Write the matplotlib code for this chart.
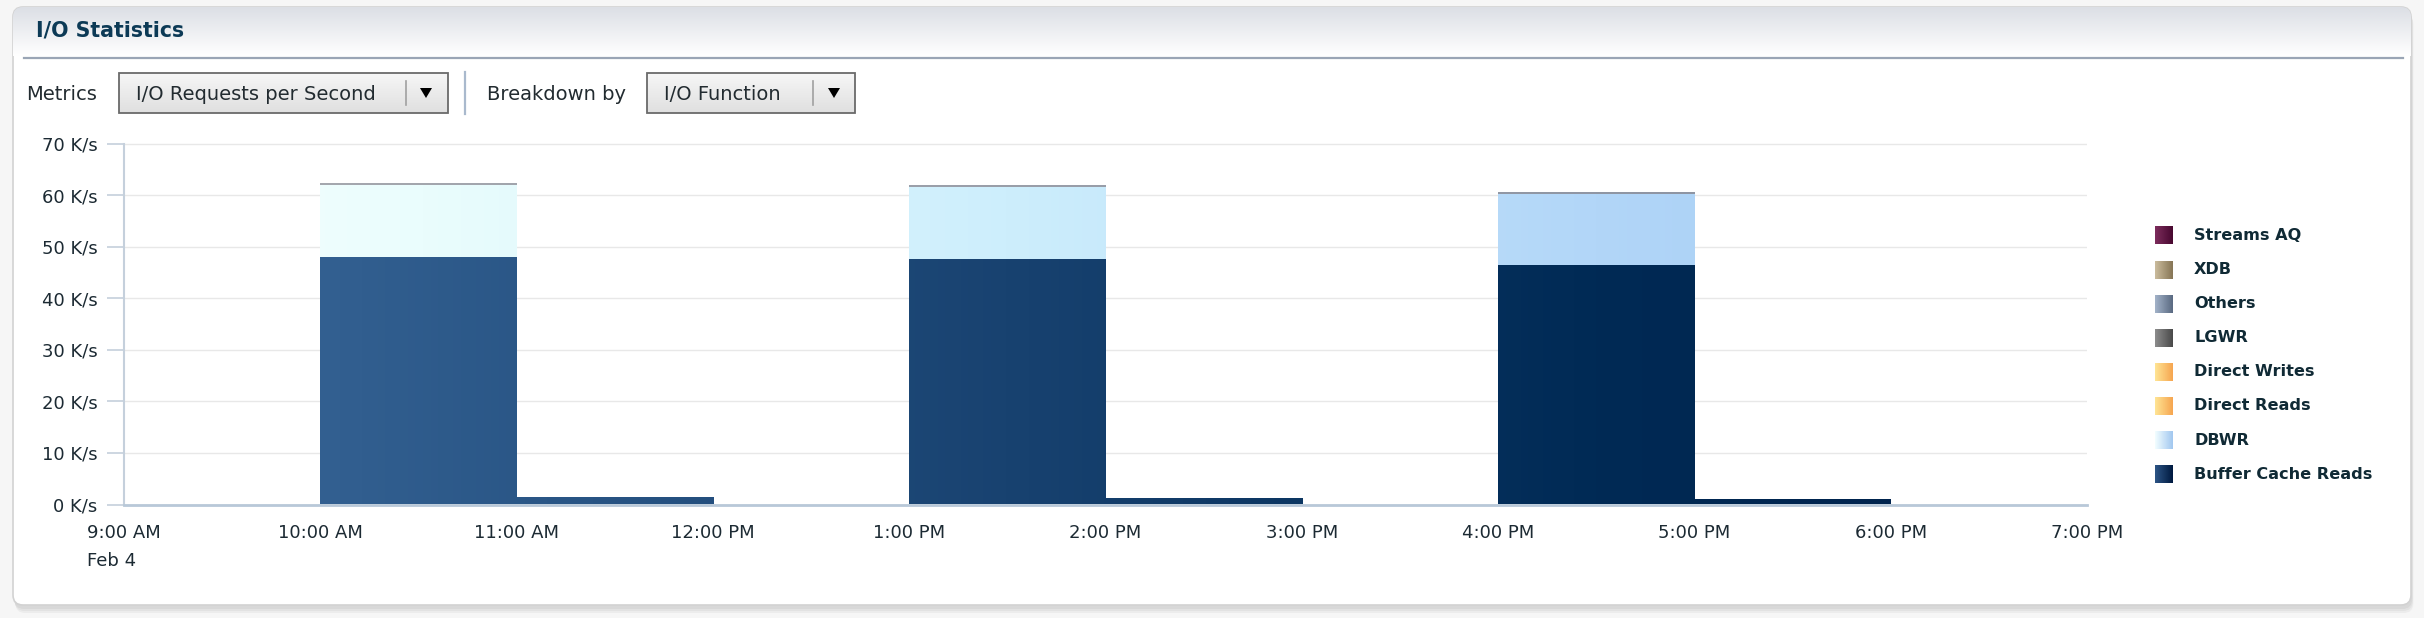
import numpy as np
import matplotlib
matplotlib.use('Agg')
from matplotlib import pyplot as plt
from matplotlib.colors import LinearSegmentedColormap
from matplotlib.patches import FancyBboxPatch, Rectangle, Polygon

W, H = 2424, 618

# hourly buckets (start hour), values in K/s
hours = [9, 10, 11, 12, 13, 14, 15, 16, 17, 18]
buffer_cache_reads = [0, 47.9, 1.2, 0, 47.6, 1.1, 0, 46.4, 0.9, 0]
dbwr = [0, 14.1, 0, 0, 14.0, 0, 0, 13.8, 0, 0]
direct_reads = [0, 0, 0, 0, 0, 0, 0, 0, 0, 0]
direct_writes = [0, 0, 0, 0, 0, 0, 0, 0, 0, 0]
lgwr = [0, 0, 0, 0, 0, 0, 0, 0, 0, 0]
others = [0, 0.25, 0, 0, 0.25, 0, 0, 0.25, 0, 0]
xdb = [0, 0, 0, 0, 0, 0, 0, 0, 0, 0]
streams_aq = [0, 0, 0, 0, 0, 0, 0, 0, 0, 0]

tick_hours = [9, 10, 11, 12, 13, 14, 15, 16, 17, 18, 19]
tick_labels = ['9:00 AM\nFeb 4', '10:00 AM', '11:00 AM', '12:00 PM', '1:00 PM', '2:00 PM',
               '3:00 PM', '4:00 PM', '5:00 PM', '6:00 PM', '7:00 PM']
y_ticks = [0, 10, 20, 30, 40, 50, 60, 70]
legend_names = ['Streams AQ', 'XDB', 'Others', 'LGWR', 'Direct Writes', 'Direct Reads', 'DBWR',
                'Buffer Cache Reads']

# gradients across the whole plot width (chart) and for legend swatches
chart_grad = {
    'Buffer Cache Reads': [(0, '#3a689a'), (0.45, '#184270'), (0.75, '#002a55'), (1, '#00204a')],
    'DBWR': [(0, '#f6ffff'), (0.15, '#eafdfd'), (0.45, '#cdeefc'), (0.75, '#b2d6f8'), (1, '#a0c8f2')],
    'Direct Reads': [(0, '#ffe08a'), (1, '#f5a850')],
    'Direct Writes': [(0, '#ffe08a'), (1, '#f5a850')],
    'LGWR': [(0, '#8a8a8a'), (1, '#4a4a4a')],
    'Others': [(0, '#a8aab0'), (1, '#8890a0')],
    'XDB': [(0, '#c8b898'), (1, '#8a7a5a')],
    'Streams AQ': [(0, '#7a2a5a'), (1, '#4a0a30')],
}
swatch_grad = {
    'Streams AQ': ['#7c2c5c', '#480830'],
    'XDB': ['#cabb9c', '#877656'],
    'Others': ['#a2b2c8', '#5a6a82'],
    'LGWR': ['#8c8c8c', '#4a4a4a'],
    'Direct Writes': ['#ffe494', '#f6a650'],
    'Direct Reads': ['#ffe494', '#f6a650'],
    'DBWR': ['#f2fdff', '#a2c8f0'],
    'Buffer Cache Reads': ['#2c5485', '#001a40'],
}

fig = plt.figure(figsize=(W / 100, H / 100), dpi=100)
fig.patch.set_facecolor('#f6f6f6')

# ---- background panel in pixel coordinates ----
bg = fig.add_axes([0, 0, 1, 1], zorder=0)
bg.set_xlim(0, W)
bg.set_ylim(H, 0)
bg.axis('off')

for off, col in [(8, '#ececec'), (6, '#e2e2e2'), (4, '#d8d8d8')]:
    bg.add_patch(FancyBboxPatch((13 + off * 0.3, 7 + off), 2398, 598, boxstyle='round,pad=0,rounding_size=10',
                                facecolor=col, edgecolor='none', zorder=0.5))
panel = FancyBboxPatch((13, 7), 2398, 598, boxstyle='round,pad=0,rounding_size=10',
                       facecolor='white', edgecolor='#d2d2d2', linewidth=1.2, zorder=1)
bg.add_patch(panel)
head = bg.imshow(np.linspace(0, 1, 64)[:, None], cmap=LinearSegmentedColormap.from_list('h', ['#dcdfe5', '#ffffff']),
                 extent=[13, 2411, 56, 7], aspect='auto', interpolation='bilinear', zorder=1.5)
head.set_clip_path(panel)
bg.plot([24, 2403], [58, 58], color='#9aa5b5', lw=1.6, zorder=2)

row_y = 94.5
bg.text(36, 30, 'I/O Statistics', fontsize=14.8, fontweight='bold', color='#0c3a56', va='center', zorder=3)
bg.text(26, row_y, 'Metrics', fontsize=14, color='#222b30', va='center', zorder=3)
bg.text(487, row_y, 'Breakdown by', fontsize=14, color='#222b30', va='center', zorder=3)


def dropdown(x0, x1, label, divider_x, arrow_x):
    box = Rectangle((x0, 73), x1 - x0, 40, facecolor='none', edgecolor='#6a6a6a', linewidth=1.3, zorder=3)
    bg.add_patch(box)
    g = bg.imshow(np.linspace(0, 1, 32)[:, None], cmap=LinearSegmentedColormap.from_list('b', ['#f6f6f6', '#e0e0e0']),
                  extent=[x0, x1, 113, 73], aspect='auto', interpolation='bilinear', zorder=2)
    g.set_clip_path(box)
    bg.text(x0 + 17, row_y, label, fontsize=14, color='#222b30', va='center', zorder=4)
    bg.plot([divider_x, divider_x], [81, 105], color='#a0a0a0', lw=1.2, zorder=4)
    bg.add_patch(Polygon([[arrow_x - 6, 88], [arrow_x + 6, 88], [arrow_x, 98]], closed=True,
                         facecolor='black', edgecolor='none', zorder=4))


dropdown(119, 448, 'I/O Requests per Second', 406, 426)
dropdown(647, 855, 'I/O Function', 813, 834)
bg.plot([465, 465], [72, 114], color='#a9b9cd', lw=1.6, zorder=3)

# legend
for i, name in enumerate(legend_names):
    yc = 235.5 + 34.1 * i
    bg.imshow(np.linspace(0, 1, 32)[None, :], cmap=LinearSegmentedColormap.from_list(name, swatch_grad[name]),
              extent=[2155, 2173, yc + 9, yc - 9], aspect='auto', interpolation='bilinear', zorder=3)
    bg.text(2194, yc, name, fontsize=11.6, fontweight='bold', color='#102a35', va='center', zorder=3)

bg.set_xlim(0, W)
bg.set_ylim(H, 0)

# ---- chart ----
x_min, x_max = hours[0], hours[-1] + 1
ax = fig.add_axes([124 / W, (H - 504.5) / H, (2087 - 124) / W, (504.5 - 143.5) / H], zorder=1)
ax.patch.set_alpha(0)

series = [('Buffer Cache Reads', buffer_cache_reads), ('DBWR', dbwr), ('Direct Reads', direct_reads),
          ('Direct Writes', direct_writes), ('LGWR', lgwr), ('Others', others), ('XDB', xdb),
          ('Streams AQ', streams_aq)]
bottom = np.zeros(len(hours))
for name, vals in series:
    bars = ax.bar(hours, vals, width=1.0, bottom=bottom, align='edge', color='none', linewidth=0)
    cmap = LinearSegmentedColormap.from_list(name, chart_grad[name])
    for r in bars:
        if r.get_height() <= 0:
            continue
        x0, y0 = r.get_x(), r.get_y()
        x1, y1 = x0 + r.get_width(), y0 + r.get_height()
        f = np.linspace((x0 - x_min) / (x_max - x_min), (x1 - x_min) / (x_max - x_min), 64)[None, :]
        ax.imshow(f, cmap=cmap, vmin=0, vmax=1, extent=[x0, x1, y0, y1], aspect='auto',
                  interpolation='bilinear', zorder=1)
    bottom += np.array(vals)

ax.set_xlim(x_min, x_max)
ax.set_ylim(0, 70)
ax.set_yticks(y_ticks)
ax.set_yticklabels([f'{v} K/s' for v in y_ticks])
ax.set_xticks(tick_hours)
ax.set_xticklabels(tick_labels)
first = ax.get_xticklabels()[0]
first.set_multialignment('left')
first.set_linespacing(1.7)

ax.yaxis.grid(True, color='#e8e8e8', lw=1)
ax.set_axisbelow(True)
ax.tick_params(axis='y', length=12, width=1.2, color='#c5d0dc', pad=7, labelsize=13, labelcolor='#1c2a33')
ax.tick_params(axis='x', length=0, pad=14, labelsize=13, labelcolor='#1c2a33')
for s in ['top', 'right']:
    ax.spines[s].set_visible(False)
ax.spines['left'].set_color('#c5d0dc')
ax.spines['left'].set_linewidth(1.5)
ax.spines['bottom'].set_color('#b8c8d8')
ax.spines['bottom'].set_linewidth(2)
ax.spines['bottom'].set_zorder(3)

fig.savefig('out.png', dpi=100)
